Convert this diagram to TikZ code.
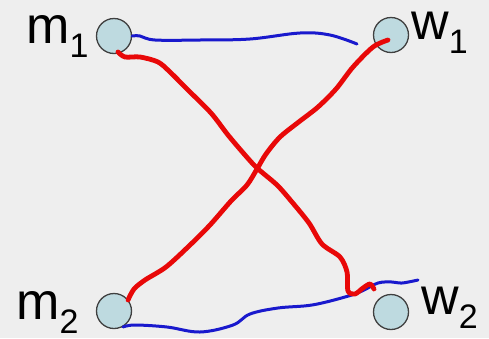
\documentclass[tikz,border=0pt]{standalone}
\usepackage{fontspec}
\setmainfont{Liberation Sans}
\usepackage{tikz}
\usetikzlibrary{calc}

\definecolor{bgcol}{RGB}{238,238,238}
\definecolor{dotcol}{RGB}{190,218,224}
\definecolor{wireblue}{RGB}{25,25,205}
\definecolor{wirered}{RGB}{232,8,8}

\newcommand{\labsub}[1]{\raisebox{-14pt}{\fontsize{34}{34}\selectfont #1}}

\begin{document}
\begin{tikzpicture}[x=1pt, y=-1pt,
    person/.style={circle, draw=black!75, fill=dotcol, line width=1.3pt,
        minimum size=35pt, inner sep=0pt},
    lab/.style={anchor=base west, inner sep=0pt,
        font=\fontsize{52}{52}\selectfont},
    bluewire/.style={draw=wireblue, line width=3pt, line cap=round},
    redwire/.style={draw=wirered, line width=4.8pt, line cap=round,
        line join=round}]
    \fill[bgcol] (0,0) rectangle (489,338);
    \useasboundingbox (0,0) rectangle (489,338);

    \node[person] (m1) at (114,36) {};
    \node[person] (w1) at (391,35) {};
    \node[person] (m2) at (114,311) {};
    \node[person] (w2) at (391,312) {};

    \node[lab] (m1lab) at (26,43) {m\labsub{1}};
    \node[lab] (w1lab) at (411,39) {w\labsub{1}};
    \node[lab] (m2lab) at (16,319) {m\labsub{2}};
    \node[lab] (w2lab) at (421,314) {w\labsub{2}};

    \coordinate (b1end) at (357,44);
    \coordinate (b2end) at (418,280);
    \coordinate (r1end) at (374,289);

    % blue pairs
    \draw[bluewire] plot[smooth, tension=0.6] coordinates {(m1.east) (140,36)
        (155,40) (200,40) (250,39) (300,33) (330,35) (b1end)};
    \draw[bluewire] plot[smooth, tension=0.6] coordinates {(123,327) (135,325)
        (167,327) (200,332) (233,325) (250,314) (278,308) (312,305) (345,297)
        (362,291) (378,283) (392,282) (402,283) (b2end)};

    % red pairs
    \draw[redwire] plot[smooth, tension=0.5] coordinates {(118,52) (125,57)
        (140,57) (158,62) (170,72) (188,90) (211,113) (228,135) (245,155)
        (257,168) (277,185) (292,202) (309,223) (322,244) (340,257) (347,272)
        (348,291) (355,294) (363,288) (370,284) (r1end)};
    \draw[redwire] plot[smooth, tension=0.5] coordinates {(388,40) (373,47)
        (353,67) (336,89) (318,107) (300,121) (280,137) (266,154) (257,169)
        (247,185) (231,201) (210,225) (189,246) (166,267) (145,280) (134,289)
        (128,300)};
\end{tikzpicture}
\end{document}
